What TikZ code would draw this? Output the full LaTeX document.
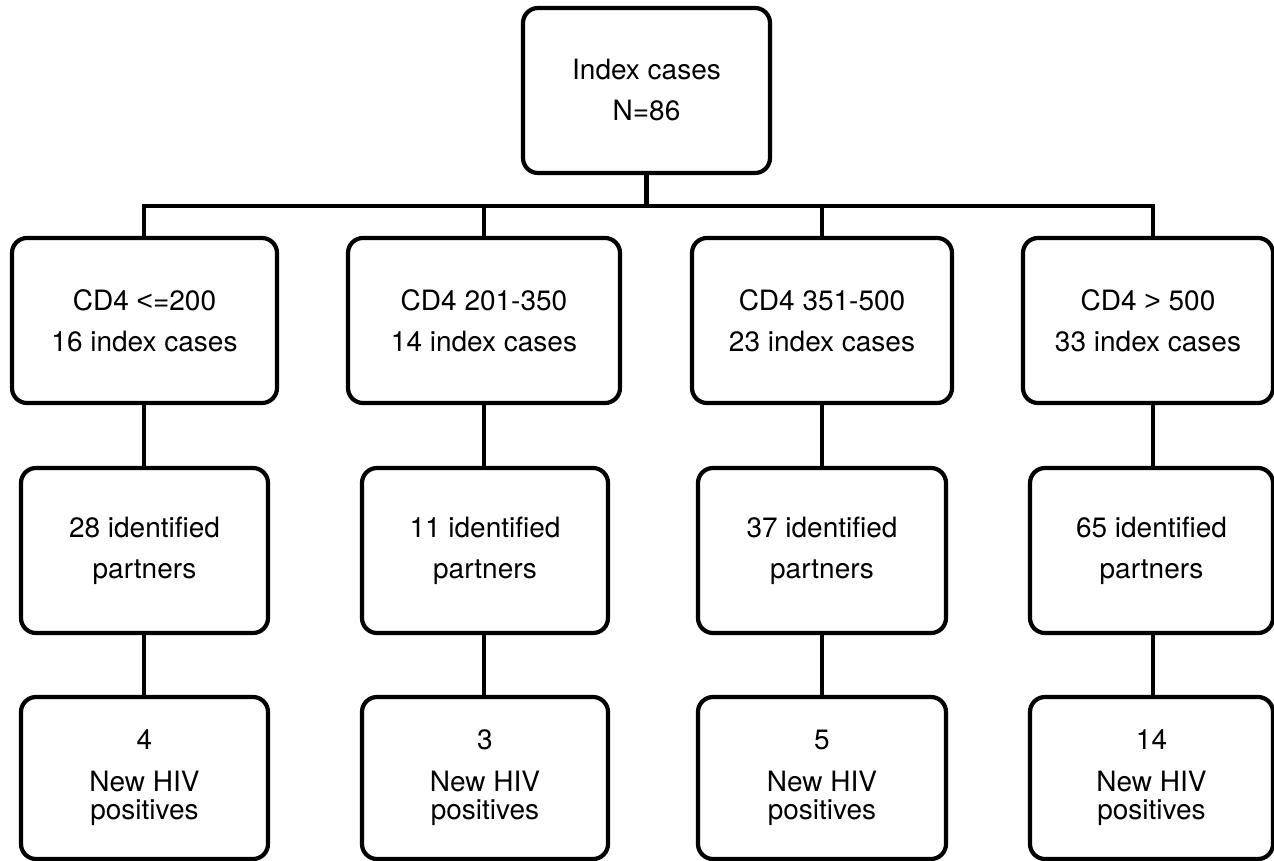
\documentclass[tikz,border=0pt]{standalone}
\usepackage{fontspec}
\setmainfont{TeX Gyre Heros}
\newfontfamily\lsans{Liberation Sans}
\begin{document}
\begin{tikzpicture}[x=1pt,y=-1pt,
  box/.style={draw=black, line width=4.2pt, rounded corners=15pt, align=center,
    inner sep=0pt, font=\fontsize{28}{41}\selectfont},
  hivbox/.style={box, font=\fontsize{28}{28}\selectfont},
  conn/.style={draw=black, line width=4.2pt}]
\useasboundingbox (0,0) rectangle (1274,861);
% top
\node[box, minimum width=247pt, minimum height=165pt] (top) at (646.5,90.5) {Index cases\\N=86};
% row 1
\node[box, minimum width=265pt, minimum height=165pt] (r1a) at (144.5,320.5) {CD4 {\lsans <}=200\\16 index cases};
\node[box, minimum width=272pt, minimum height=165pt] (r1b) at (484,320.5) {CD4 201-350\\14 index cases};
\node[box, minimum width=260pt, minimum height=165pt] (r1c) at (822,320.5) {CD4 351-500\\23 index cases};
\node[box, minimum width=250pt, minimum height=165pt] (r1d) at (1148,320.5) {CD4 {\lsans >} 500\\33 index cases};
% row 2
\node[box, minimum width=247pt, minimum height=165pt] (r2a) at (144.5,550.5) {28 identified\\partners};
\node[box, minimum width=246pt, minimum height=165pt] (r2b) at (485,550.5) {11 identified\\partners};
\node[box, minimum width=248pt, minimum height=165pt] (r2c) at (822,550.5) {37 identified\\partners};
\node[box, minimum width=243pt, minimum height=165pt] (r2d) at (1151.5,550.5) {65 identified\\partners};
% row 3
\node[hivbox, minimum width=247pt, minimum height=162pt] (r3a) at (144.5,778) {4\\[14pt]New HIV\\positives};
\node[hivbox, minimum width=246pt, minimum height=162pt] (r3b) at (485,778) {3\\[14pt]New HIV\\positives};
\node[hivbox, minimum width=248pt, minimum height=162pt] (r3c) at (822,778) {5\\[14pt]New HIV\\positives};
\node[hivbox, minimum width=243pt, minimum height=162pt] (r3d) at (1151.5,778) {14\\[14pt]New HIV\\positives};
% junctions
\coordinate (j1) at (144,206);
\coordinate (j2) at (484,206);
\coordinate (j3) at (822,206);
\coordinate (j4) at (1153,206);
% connectors
\draw[conn] (top.south) -- (top.south |- j1);
\draw[conn] (j1 |- r1a.north) -- (j1) -- (j4) -- (j4 |- r1d.north);
\draw[conn] (j2) -- (j2 |- r1b.north);
\draw[conn] (j3) -- (j3 |- r1c.north);
\draw[conn] (j1 |- r1a.south) -- (j1 |- r2a.north);
\draw[conn] (j2 |- r1b.south) -- (j2 |- r2b.north);
\draw[conn] (j3 |- r1c.south) -- (j3 |- r2c.north);
\draw[conn] (j4 |- r1d.south) -- (j4 |- r2d.north);
\draw[conn] (j1 |- r2a.south) -- (j1 |- r3a.north);
\draw[conn] (j2 |- r2b.south) -- (j2 |- r3b.north);
\draw[conn] (j3 |- r2c.south) -- (j3 |- r3c.north);
\draw[conn] (j4 |- r2d.south) -- (j4 |- r3d.north);
\end{tikzpicture}
\end{document}
